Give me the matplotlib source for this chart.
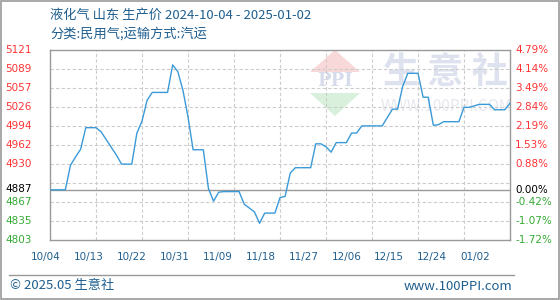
import matplotlib
matplotlib.use('Agg')
import matplotlib.pyplot as plt
from matplotlib.patches import Polygon, Rectangle
import numpy as np

plt.rcParams['font.family'] = ['Noto Sans CJK SC', 'DejaVu Sans']

# days since 2024-10-04, price (yuan/ton)
days = [0, 3, 4, 5, 6, 7, 9, 10, 13, 14, 16, 17, 18, 19, 20, 23, 24, 25, 26,
        27, 28, 30, 31, 32, 33, 34, 37, 38, 40, 41, 42, 44, 45, 46, 47, 48,
        51, 52, 53, 54, 55, 56, 58, 59, 60, 61, 65, 66, 67, 68, 69, 70, 72,
        73, 74, 75, 76, 77, 80, 81, 82, 84, 86, 87, 89, 90]
prices = [4887, 4887, 4928, 4942, 4955, 4991, 4991, 4984, 4945, 4930, 4930,
          4982, 5002, 5037, 5050, 5050, 5096, 5085, 5054, 5009, 4954, 4954,
          4889, 4868, 4883, 4884, 4884, 4863, 4850, 4831, 4848, 4848, 4874,
          4876, 4915, 4924, 4924, 4964, 4964, 4959, 4950, 4966, 4966, 4982,
          4982, 4994, 4994, 5008, 5022, 5022, 5060, 5082, 5082, 5042, 5042,
          4995, 4996, 5001, 5001, 5025, 5025, 5030, 5030, 5021, 5021, 5032]

base = 4887
ymin, ymax = 4803, 5121
left_labels = ['4803', '4835', '4867', '4930', '4962', '4994', '5026', '5057', '5089', '5121']
left_vals = [4803, 4834.8, 4866.6, 4930.2, 4962, 4993.8, 5025.6, 5057.4, 5089.2, 5121]
right_labels = ['-1.72%', '-1.07%', '-0.42%', '0.88%', '1.53%', '2.19%', '2.84%', '3.49%', '4.14%', '4.79%']
x_labels = ['10/04', '10/13', '10/22', '10/31', '11/09', '11/18', '11/27',
            '12/06', '12/15', '12/24', '01/02']

red = '#ff3333'
green = '#33aa33'
blue_txt = '#1f5f8f'

fig = plt.figure(figsize=(5.6, 3.0), dpi=100)
ax = fig.add_axes([50 / 560, 60 / 300, 460 / 560, 190 / 300])
ax.set_xlim(0, 90)
ax.set_ylim(ymin, ymax)

# grid
for i in range(1, 10):
    ax.axvline(i * 9, color='#cccccc', lw=0.8, ls=(0, (3, 2)), zorder=1)
for k in range(1, 10):
    v = ymin + k * (ymax - ymin) / 10
    ax.axhline(v, color='#cccccc', lw=0.8, ls=(0, (3, 2)), zorder=1)
ax.axhline(base, color='#999999', lw=1.0, zorder=2)

# watermark
def px(x, y):
    return ((x - 50) / 460 * 90, ymin + (240 - y) / 190 * (ymax - ymin))
ax.add_patch(Polygon([px(310, 72), px(335, 50), px(360, 72)], closed=True,
                     fc='#f8d8d8', ec='none', zorder=0))
ax.add_patch(Polygon([px(310, 93), px(335, 116), px(360, 93)], closed=True,
                     fc='#d8f0dc', ec='none', zorder=0))
ax.text(*px(335, 81), 'PPI', ha='center', va='center', fontsize=13,
        fontweight='bold', family='DejaVu Serif', color='#d6dcea', zorder=0)
ax.text(*px(445, 72), '生 意 社', ha='center', va='center', fontsize=26,
        fontweight='bold', color='#dde2ee', zorder=0)
ax.text(*px(446, 106), 'WWW.100PPI.COM', ha='center', va='center', fontsize=11,
        color='#e6e8ee', zorder=0)

ax.plot(days, prices, color='#3a9ad9', lw=1.0, zorder=3)

for s in ax.spines.values():
    s.set_color('#999999')
    s.set_linewidth(1.0)
ax.set_xticks([])
ax.set_yticks([])

# left / right tick labels
lx = (5 - 50) / 460 * 90
rx = (515 - 50) / 460 * 90
for lab, v, rl in zip(left_labels, left_vals, right_labels):
    col = red if v > base else green
    ax.text(lx, v, lab, ha='left', va='center', fontsize=7.5,
            family='DejaVu Sans', color=col, clip_on=False)
    ax.text(rx, v, rl, ha='left', va='center', fontsize=7.5,
            family='DejaVu Sans', color=col, clip_on=False)
ax.text(lx, base + 1.5, '4887', ha='left', va='center', fontsize=7.5,
        family='DejaVu Sans', color='black', clip_on=False)
ax.text(rx, base, '0.00%', ha='left', va='center', fontsize=7.5,
        family='DejaVu Sans', color='black', clip_on=False)

# x labels
for i, lab in enumerate(x_labels):
    xp = 46 + i * 42.9
    fig.text(xp / 560, 1 - 257 / 300, lab, ha='center', va='center',
             fontsize=7.5, family='DejaVu Sans', color=blue_txt)

# titles
fig.text(50 / 560, 1 - 15 / 300, '液化气 山东 生产价 2024-10-04 - 2025-01-02',
         ha='left', va='center', fontsize=9.5, color=blue_txt)
fig.text(50 / 560, 1 - 34 / 300, '分类:民用气;运输方式:汽运',
         ha='left', va='center', fontsize=9.5, color=blue_txt)

# footer
fig.add_artist(plt.Line2D([9 / 560, 514 / 560], [1 - 275 / 300] * 2,
                          color='#999999', lw=1.0))
fig.text(10 / 560, 1 - 286 / 300, '© 2025.05 生意社', ha='left', va='center',
         fontsize=9.5, color=blue_txt)
fig.text(512 / 560, 1 - 286 / 300, 'www.100PPI.com', ha='right', va='center',
         fontsize=9.5, color=blue_txt)
fig.add_artist(Rectangle((0.001, 0.002), 0.997, 0.996, transform=fig.transFigure,
                         fill=False, ec='#999999', lw=1.2))

fig.savefig('out.png', dpi=100)
